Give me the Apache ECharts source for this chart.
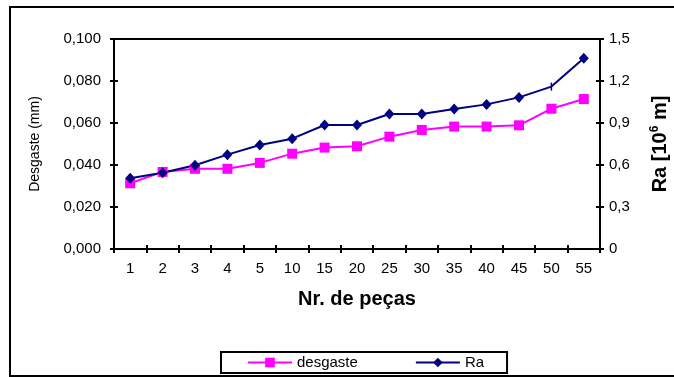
<!DOCTYPE html>
<html>
<head>
<meta charset="utf-8">
<script src="https://cdn.jsdelivr.net/npm/echarts@6/dist/echarts.min.js"></script>
<style>
html,body{margin:0;padding:0;background:#fff;}
#c{width:674px;height:377px;}
</style>
</head>
<body>
<div id="c"></div>
<script>
const categories = ['1','2','3','4','5','10','15','20','25','30','35','40','45','50','55'];
const desgaste = [0.0313,0.0367,0.0382,0.0382,0.0410,0.0454,0.0483,0.0489,0.0535,0.0567,0.0583,0.0583,0.0589,0.0668,0.0714];
const ra = [0.505,0.545,0.598,0.674,0.743,0.788,0.886,0.886,0.964,0.964,1.000,1.033,1.083,1.160,1.362];

const FONT = 'Liberation Sans, Arial, sans-serif';
const chart = echarts.init(document.getElementById('c'), null, {renderer:'canvas'});

const raData = ra.map((v,i)=> i===13 ? {value:v, symbol:'rect', symbolSize:[1.5,8]} : v);

const leftFmt = v => v.toFixed(3).replace('.', ',');
const rightFmt = v => v === 0 ? '0' : v.toFixed(1).replace('.', ',');

const baseLabel = {color:'#000', fontSize:15, fontFamily:FONT};
const line = {show:true, lineStyle:{color:'#000', width:2}};

chart.setOption({
  animation:false,
  backgroundColor:'#fff',
  grid:{left:114, right:74, top:39, bottom:128, show:true, borderColor:'#000', borderWidth:2, containLabel:false, outerBoundsMode:'none'},
  legend:{
    data:['desgaste','Ra'],
    orient:'horizontal',
    left:221, top:352,
    itemWidth:44, itemHeight:12, itemGap:57,
    padding:[3,23,3,26],
    borderColor:'#000', borderWidth:2,
    textStyle:{color:'#000', fontSize:15, fontFamily:FONT}
  },
  graphic:[{type:'rect', shape:{x:10, y:7, width:700, height:369}, style:{fill:null, stroke:'#000', lineWidth:2}, silent:true}],
  xAxis:[{
    type:'category', data:categories, boundaryGap:true,
    axisLine:line,
    axisTick:{show:true, length:4, lineStyle:{color:'#000', width:2}},
    axisLabel:Object.assign({margin:12}, baseLabel),
    name:'Nr. de peças', nameLocation:'middle', nameGap:40,
    nameTextStyle:{color:'#000', fontSize:20, fontWeight:'bold', fontFamily:FONT},
    splitLine:{show:false}
  },{
    type:'category', data:categories, boundaryGap:true, position:'bottom',
    axisLine:{show:false},
    axisTick:{show:true, inside:true, length:4, lineStyle:{color:'#000', width:2}},
    axisLabel:{show:false}, splitLine:{show:false}
  }],
  yAxis:[{
    type:'value', min:0, max:0.1, interval:0.02, position:'left',
    axisLine:line,
    axisTick:{show:true, length:4, lineStyle:{color:'#000', width:2}},
    axisLabel:Object.assign({formatter:leftFmt, margin:13}, baseLabel),
    splitLine:{show:false},
    name:'Desgaste (mm)', nameLocation:'middle', nameGap:72,
    nameTextStyle:{color:'#000', fontSize:14, fontFamily:FONT}
  },{
    type:'value', min:0, max:1.5, interval:0.3, position:'right',
    axisLine:line,
    axisTick:{show:true, length:4, lineStyle:{color:'#000', width:2}},
    axisLabel:Object.assign({formatter:rightFmt, margin:9}, baseLabel),
    splitLine:{show:false},
    name:'{a|Ra [10}{s|6}{a| m]}', nameLocation:'middle', nameGap:49, nameRotate:90,
    nameTextStyle:{
      color:'#000', fontFamily:FONT,
      rich:{
        a:{fontSize:20, fontWeight:'bold', fontFamily:FONT, color:'#000', lineHeight:22},
        s:{fontSize:12, fontWeight:'bold', fontFamily:FONT, color:'#000', verticalAlign:'top', lineHeight:22, padding:[0,0,9,0]}
      }
    }
  },{
    type:'value', min:0, max:0.1, interval:0.02, position:'left',
    axisLine:{show:false}, axisTick:{show:true, inside:true, length:4, lineStyle:{color:'#000', width:2}},
    axisLabel:{show:false}, splitLine:{show:false}
  },{
    type:'value', min:0, max:1.5, interval:0.3, position:'right',
    axisLine:{show:false}, axisTick:{show:true, inside:true, length:4, lineStyle:{color:'#000', width:2}},
    axisLabel:{show:false}, splitLine:{show:false}
  }],
  series:[{
    name:'desgaste', type:'line', xAxisIndex:0, yAxisIndex:0, data:desgaste,
    symbol:'rect', symbolSize:10,
    itemStyle:{color:'#FF00FF'}, lineStyle:{color:'#FF00FF', width:2}
  },{
    name:'Ra', type:'line', xAxisIndex:0, yAxisIndex:1, data:raData,
    symbol:'diamond', symbolSize:[10,11],
    itemStyle:{color:'#000080'}, lineStyle:{color:'#000080', width:2}
  }]
});
</script>
</body>
</html>
